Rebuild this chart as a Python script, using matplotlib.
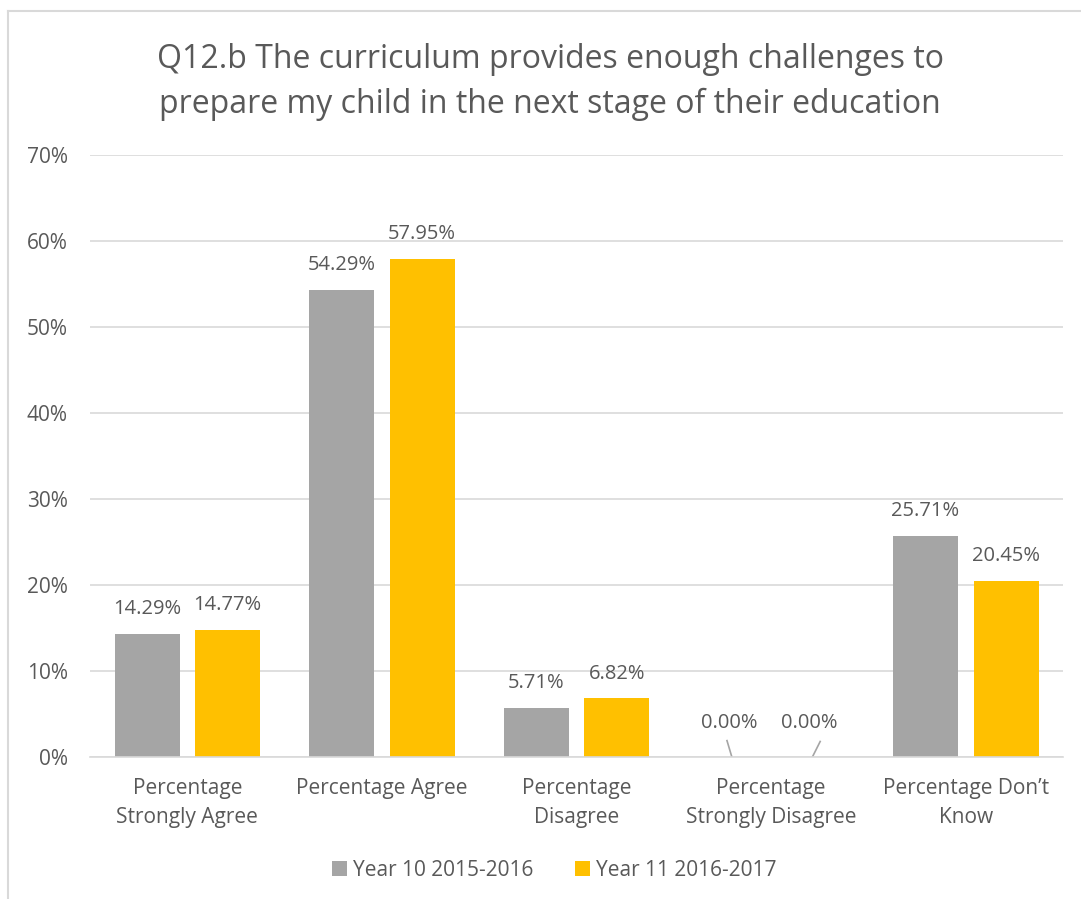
import numpy as np
import matplotlib.pyplot as plt
from matplotlib.lines import Line2D
from matplotlib.ticker import PercentFormatter

# Dados do gráfico
categorias = ['Percentage\nStrongly Agree', 'Percentage Agree', 'Percentage\nDisagree',
              'Percentage\nStrongly Disagree', 'Percentage Don\u2019t\nKnow']
ano10 = [14.29, 54.29, 5.71, 0.00, 25.71]
ano11 = [14.77, 57.95, 6.82, 0.00, 20.45]
series = ['Year 10 2015-2016', 'Year 11 2016-2017']
titulo = 'Q12.b The curriculum provides enough challenges to\nprepare my child in the next stage of their education'

cinza = '#A5A5A5'
amarelo = '#FFC000'
texto = '#595959'

plt.rcParams['font.family'] = ['Open Sans', 'DejaVu Sans']

fig = plt.figure(figsize=(10.81, 8.99), dpi=100)
ax = fig.add_axes([0.0833, 0.158, 0.9001, 0.6696])

x = np.arange(len(categorias))
larg = 0.334
off = 0.207
b1 = ax.bar(x - off, ano10, larg, color=cinza, label=series[0], zorder=3)
b2 = ax.bar(x + off, ano11, larg, color=amarelo, label=series[1], zorder=3)

# rótulos de dados
for barras, vals in [(b1, ano10), (b2, ano11)]:
    for b, v in zip(barras, vals):
        cx = b.get_x() + b.get_width() / 2
        if v == 0:
            ax.text(cx - 0.01, 3.9, f'{v:.2f}%', ha='center', va='center',
                    fontsize=14.5, color=texto)
        else:
            ax.text(cx, v + 1.7, f'{v:.2f}%', ha='center', va='bottom',
                    fontsize=14.5, color=texto)

# linhas de chamada para os zeros
ax.plot([x[3] - off - 0.02, x[3] - off + 0.005], [1.9, 0], color=cinza, lw=1.2, zorder=4)
ax.plot([x[3] + off + 0.045, x[3] + off + 0.005], [1.8, 0], color=cinza, lw=1.2, zorder=4)

ax.set_xlim(-0.5, len(categorias) - 0.5)
ax.set_ylim(0, 70)
ax.set_yticks(range(0, 71, 10))
ax.yaxis.set_major_formatter(PercentFormatter(decimals=0))
ax.set_xticks(x)
ax.set_xticklabels(categorias, fontsize=15, color=texto, linespacing=1.5)
ax.tick_params(axis='y', labelsize=15, labelcolor=texto, length=0, pad=16)
ax.tick_params(axis='x', length=0, pad=15)
ax.grid(axis='y', color='#D9D9D9', lw=1.2, zorder=0)
for s in ['top', 'right', 'left']:
    ax.spines[s].set_visible(False)
ax.spines['bottom'].set_color('#D9D9D9')
ax.spines['bottom'].set_linewidth(1.2)
ax.spines['bottom'].set_zorder(4)

fig.text(0.509, 0.9085, titulo, ha='center', va='center', fontsize=23,
         color=texto, linespacing=1.45)

ax.legend(loc='center', bbox_to_anchor=(0.513, 0.032), bbox_transform=fig.transFigure,
          ncol=2, frameon=False, fontsize=15, labelcolor=texto,
          handlelength=0.7, handleheight=0.7, handletextpad=0.3, columnspacing=2.0)

# borda do gráfico (parcialmente cortada)
fig.add_artist(Line2D([0.0074, 1.0], [0.9878, 0.9878], color='#D9D9D9', lw=1.5,
                      transform=fig.transFigure))
fig.add_artist(Line2D([0.0074, 0.0074], [0.0, 0.9878], color='#D9D9D9', lw=1.5,
                      transform=fig.transFigure))

fig.savefig('out.png', dpi=100)
